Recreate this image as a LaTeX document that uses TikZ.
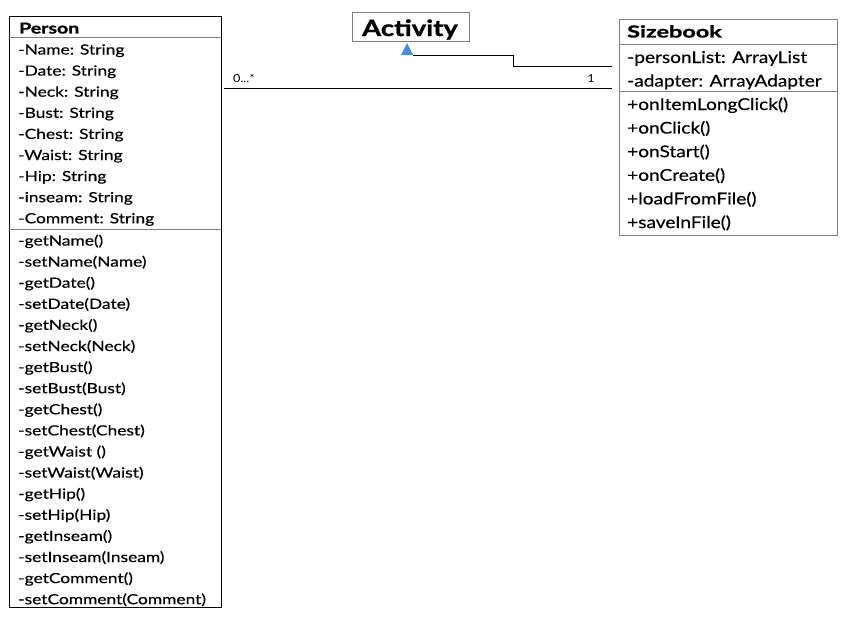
\documentclass[tikz,border=0pt]{standalone}
\usepackage{fontspec}
\setmainfont{Lato}
\newfontfamily\prow[FakeStretch=1.24,FakeBold=0.4]{Lato}
\newfontfamily\srowf[FakeStretch=1.17,FakeBold=0.4]{Lato}
\newfontfamily\titlef[FakeStretch=1.3,FakeBold=1.2]{Lato}
\newfontfamily\acttitlef[FakeStretch=1.23,FakeBold=1.2]{Lato}
\newfontfamily\stitlef[FakeStretch=1.42,FakeBold=1.2]{Lato}
\newfontfamily\multf[FakeStretch=1.15]{Lato}
\definecolor{tri}{HTML}{4A90D0}
\definecolor{bordgray}{HTML}{808080}
\begin{document}
\begin{tikzpicture}[x=1pt,y=-1pt,
  row/.style={anchor=base west,inner sep=0pt,font=\prow\fontsize{14}{14}\selectfont},
  srow/.style={anchor=base west,inner sep=0pt,font=\srowf\fontsize{16.3}{16.3}\selectfont},
  mult/.style={anchor=base,inner sep=0pt,font=\multf\fontsize{11}{11}\selectfont},
  line/.style={draw=black,line width=0.8pt}]
\useasboundingbox (0,0) rectangle (855,621);
% Person
\node[draw=black,line width=0.9pt,minimum width=212pt,minimum height=591pt,inner sep=0pt] (person) at (115,311.5) {};
\draw[bordgray,line width=0.8pt] (person.west |- 0,37) -- (person.east |- 0,37);
\draw[bordgray,line width=0.8pt] (person.west |- 0,229) -- (person.east |- 0,229);
\node[anchor=base west,inner sep=0pt,font=\titlef\bfseries\fontsize{15}{15}\selectfont] (ptitle) at (19,33.5) {Person};
\foreach \t [count=\i from 0] in {-Name: String,-Date: String,-Neck: String,-Bust: String,-Chest: String,-Waist: String,-Hip: String,-inseam: String,-Comment: String}
  \node[row] (pa\i) at (18,{54.5+21.1*\i}) {\t};
\foreach \t [count=\i from 0] in {-getName(),-setName(Name),-getDate(),-setDate(Date),-getNeck(),-setNeck(Neck),-getBust(),-setBust(Bust),-getChest(),-setChest(Chest),-getWaist (),-setWaist(Waist),-getHip(),-setHip(Hip),-getInseam(),-setInseam(Inseam),-getComment(),-setComment(Comment)}
  \node[row] (pm\i) at (18,{245.5+21.1*\i}) {\t};
% Activity
\node[draw=bordgray,line width=0.9pt,minimum width=117pt,minimum height=29pt,inner sep=0pt] (activity) at (410.5,26.5) {};
\node[anchor=base,inner sep=0pt,font=\acttitlef\bfseries\fontsize{22.3}{22.3}\selectfont] (acttext) at (410,36) {Activity};
% Sizebook
\node[draw=bordgray,line width=0.9pt,minimum width=218pt,minimum height=216pt,inner sep=0pt] (sizebook) at (728,127) {};
\draw[bordgray,line width=0.8pt] (sizebook.west |- 0,44) -- (sizebook.east |- 0,44);
\draw[bordgray,line width=0.8pt] (sizebook.west |- 0,91) -- (sizebook.east |- 0,91);
\node[anchor=base west,inner sep=0pt,font=\stitlef\bfseries\fontsize{16.5}{16.5}\selectfont] (stitle) at (627,37.5) {Sizebook};
\foreach \t [count=\i from 0] in {-personList: ArrayList,-adapter: ArrayAdapter}
  \node[srow] (sa\i) at (627,{63+23.5*\i}) {\t};
\foreach \t [count=\i from 0] in {+onItemLongClick(),+onClick(),+onStart(),+onCreate(),+loadFromFile(),+saveInFile()}
  \node[srow] (sm\i) at (627,{110+23.6*\i}) {\t};
% Generalization
\coordinate (genend) at (612,66);
\coordinate (triR) at (413,55);
\fill[tri] (407,43) -- (triR) -- (401,55) -- cycle;
\draw[line] (genend) -- (513,66) -- (513,55) -- (triR);
% Association
\coordinate (assocstart) at (224,88);
\coordinate (assocend) at (612,88);
\draw[line] (assocstart) -- (assocend);
\node[mult] (m0) at (244,82) {0...*};
\node[mult] (m1) at (591,82) {1};
\end{tikzpicture}
\end{document}
